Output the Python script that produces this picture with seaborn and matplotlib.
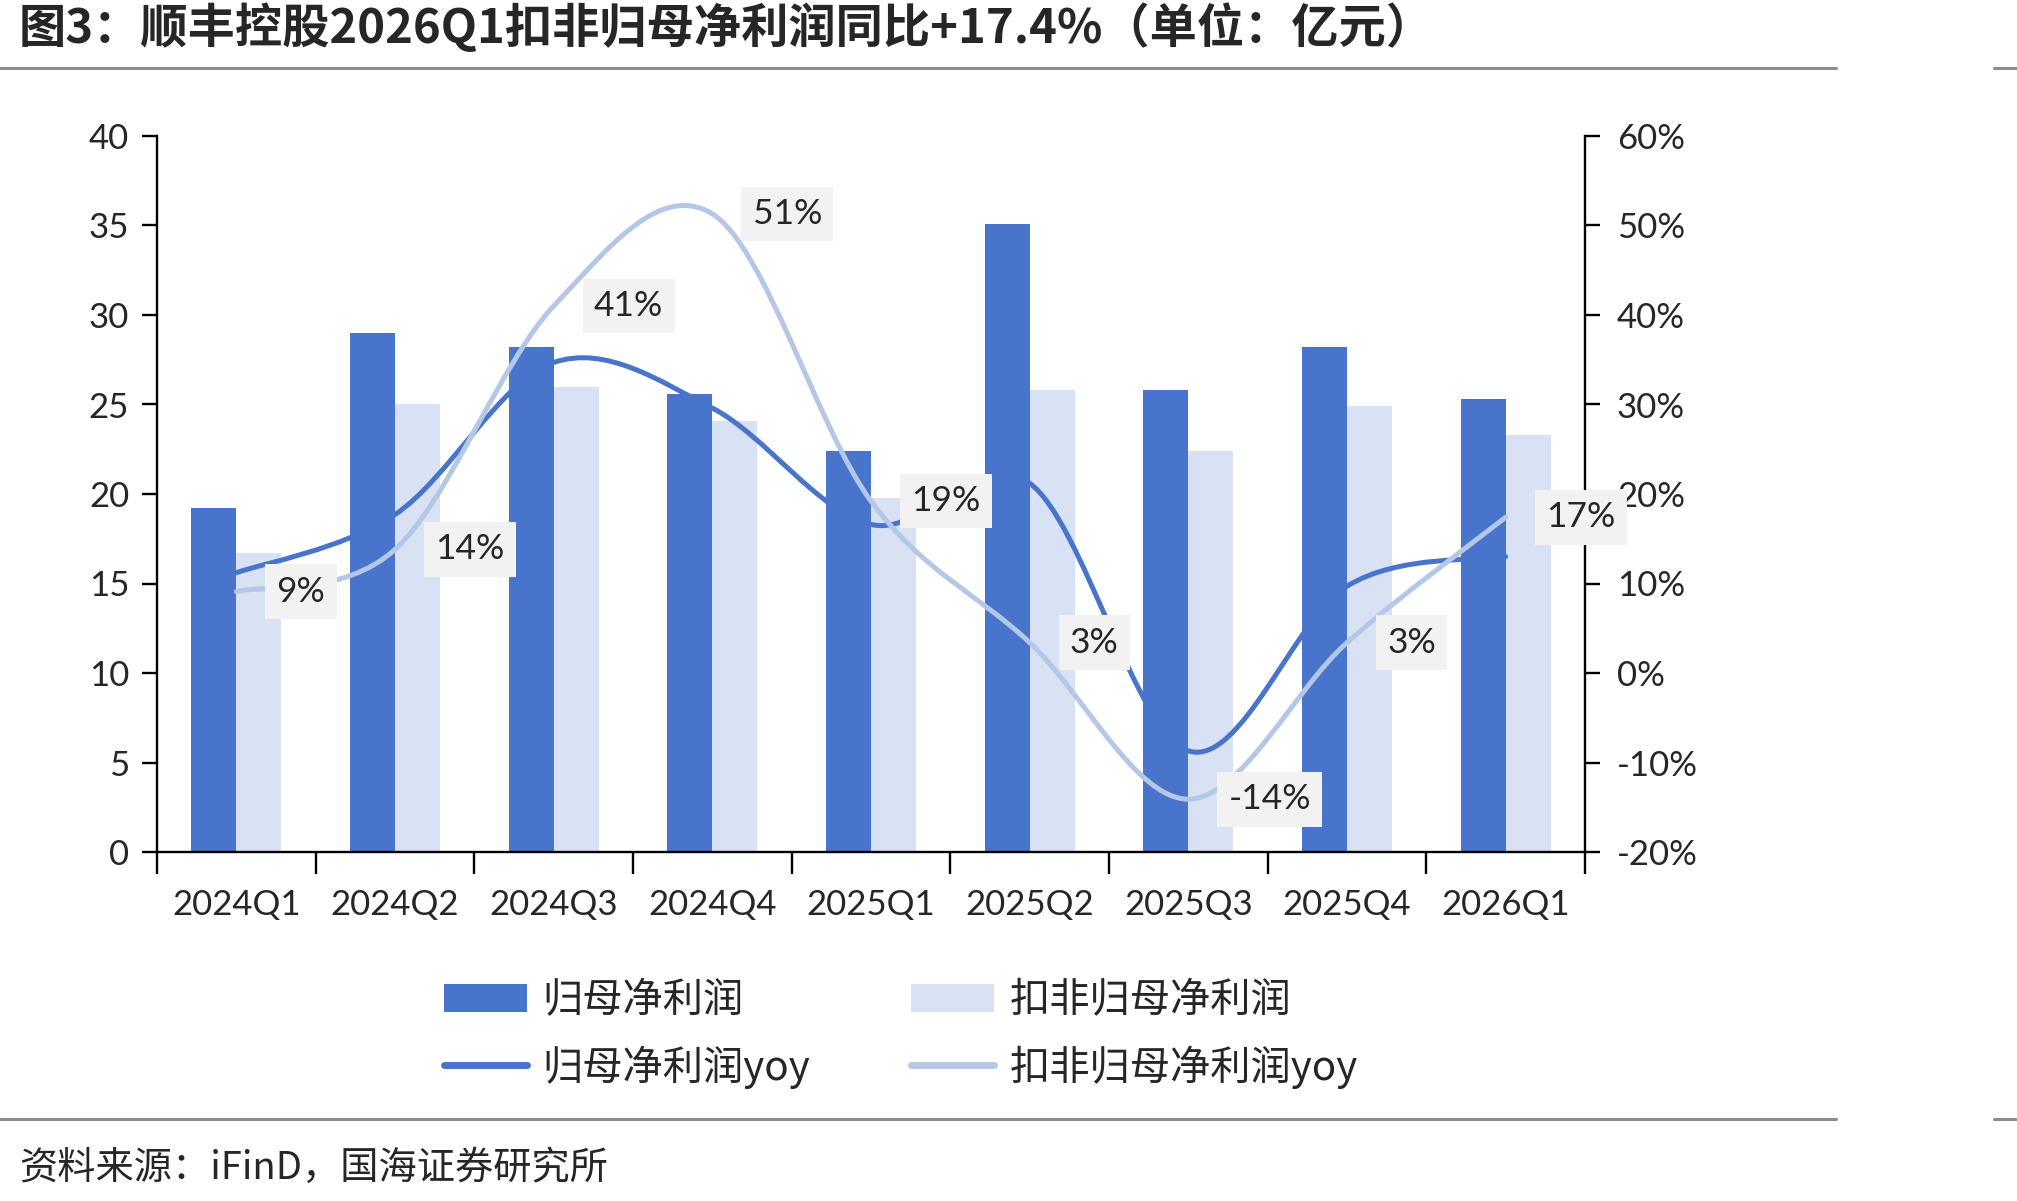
import numpy as np
import pandas as pd
import matplotlib
matplotlib.use("Agg")
import matplotlib.pyplot as plt
import seaborn as sns
from matplotlib.path import Path
from matplotlib.patches import PathPatch, Patch
from matplotlib.lines import Line2D

# data (亿元 / %)
quarters = ["2024Q1", "2024Q2", "2024Q3", "2024Q4", "2025Q1",
            "2025Q2", "2025Q3", "2025Q4", "2026Q1"]
net_profit = [19.2, 29.0, 28.2, 25.6, 22.4, 35.1, 25.8, 28.2, 25.3]
net_profit_ded = [16.7, 25.0, 26.0, 24.1, 19.8, 25.8, 22.4, 24.9, 23.3]
net_profit_yoy = [11.2, 17.7, 34.7, 29.6, 16.6, 21.2, -8.7, 9.7, 13.0]
ded_yoy = [9.1, 13.8, 41.0, 51.3, 19.2, 3.4, -14.1, 3.4, 17.4]
ded_yoy_labels = ["9%", "14%", "41%", "51%", "19%", "3%", "-14%", "3%", "17%"]

DARK = "#4874CB"
LIGHT = "#D9E1F4"
LINE_LIGHT = "#B4C7E7"
RULE = "#8C8C8C"

sns.set_style("white")
plt.rcParams["font.family"] = ["Noto Sans CJK SC", "DejaVu Sans"]
NUM_FONT = ["Lato", "Noto Sans CJK SC"]


def smooth_path(xs, ys):
    # excel-like smoothed line as bezier segments
    pts = np.column_stack([xs, ys]).astype(float)
    n = len(pts)
    verts = [pts[0]]
    codes = [Path.MOVETO]
    for i in range(n - 1):
        p0 = pts[max(i - 1, 0)]
        p1 = pts[i]
        p2 = pts[i + 1]
        p3 = pts[min(i + 2, n - 1)]
        verts += [p1 + (p2 - p0) / 6, p2 - (p3 - p1) / 6, p2]
        codes += [Path.CURVE4] * 3
    return Path(verts, codes)


fig = plt.figure(figsize=(20.17, 12.01), dpi=100)
ax = fig.add_axes([157 / 2017, 1 - 852 / 1201, 1428 / 2017, 716 / 1201])

df = pd.DataFrame({
    "quarter": quarters * 2,
    "value": net_profit + net_profit_ded,
    "series": ["归母净利润"] * len(quarters) + ["扣非归母净利润"] * len(quarters),
})
sns.barplot(data=df, x="quarter", y="value", hue="series",
            hue_order=["归母净利润", "扣非归母净利润"],
            palette=[DARK, LIGHT], saturation=1, width=0.567,
            errorbar=None, linewidth=0, legend=False, ax=ax)

ax.set_xlim(-0.5, len(quarters) - 0.5)
ax.set_ylim(0, 40)
ax.set_yticks(range(0, 41, 5))
ax.set_xlabel("")
ax.set_ylabel("")
ax.set_xticks(np.arange(-0.5, len(quarters), 1))
ax.set_xticklabels([])
ax.set_xticks(range(len(quarters)), minor=True)
ax.set_xticklabels(quarters, minor=True, fontsize=25, family=NUM_FONT)
for t in ax.get_yticklabels():
    t.set_fontfamily(NUM_FONT)
    t.set_fontsize(25)
ax.tick_params(axis="x", which="major", bottom=True, length=16, width=1.7, color="black")
ax.tick_params(axis="x", which="minor", bottom=True, length=0, pad=27)
ax.tick_params(axis="y", left=True, length=11, width=1.7, pad=9, color="black")
for s in ["top", "right"]:
    ax.spines[s].set_visible(False)
for s in ["left", "bottom"]:
    ax.spines[s].set_color("black")
    ax.spines[s].set_linewidth(1.7)

ax2 = ax.twinx()
ax2.set_ylim(-20, 60)
ax2.set_yticks(range(-20, 61, 10))
ax2.set_yticklabels([f"{v}%" for v in range(-20, 61, 10)], fontsize=25, family=NUM_FONT)
ax2.tick_params(axis="y", right=True, length=11, width=1.7, pad=12, color="black")
for s in ["top", "left", "bottom"]:
    ax2.spines[s].set_visible(False)
ax2.spines["right"].set_color("black")
ax2.spines["right"].set_linewidth(1.7)

xs = np.arange(len(quarters))
ax2.add_patch(PathPatch(smooth_path(xs, net_profit_yoy), fill=False, ec=DARK,
                        lw=3.6, capstyle="round", joinstyle="round"))
ax2.add_patch(PathPatch(smooth_path(xs, ded_yoy), fill=False, ec=LINE_LIGHT,
                        lw=3.6, capstyle="round", joinstyle="round"))

for x, v, lab in zip(xs, ded_yoy, ded_yoy_labels):
    ax2.annotate(lab, (x, v), xytext=(29, 0), textcoords="offset points",
                 ha="left", va="center", fontsize=25.5, family=NUM_FONT,
                 bbox=dict(boxstyle="square,pad=0.32", fc="#F2F2F2", ec="none"),
                 zorder=5)

handles = [
    Patch(color=DARK, lw=0),
    Line2D([], [], color=DARK, lw=5, solid_capstyle="round"),
    Patch(color=LIGHT, lw=0),
    Line2D([], [], color=LINE_LIGHT, lw=5, solid_capstyle="round"),
]
labels = ["归母净利润", "归母净利润yoy", "扣非归母净利润", "扣非归母净利润yoy"]
fig.legend(handles, labels, ncol=2, loc="upper left",
           bbox_to_anchor=(444 / 2017, 1 - 980 / 1201), frameon=False,
           fontsize=29, handlelength=2.05, handleheight=0.7, handletextpad=0.4,
           columnspacing=2.5, labelspacing=0.6, borderpad=0, borderaxespad=0)

fig.text(19 / 2017, 1 - 28 / 1201,
         "图3：顺丰控股2026Q1扣非归母净利润同比+17.4%（单位：亿元）",
         fontsize=34, fontweight="bold", va="center", ha="left")
fig.text(19 / 2017, 1 - 1168 / 1201, "资料来源：iFinD，国海证券研究所",
         fontsize=27.5, va="center", ha="left")

for yy in [68, 1119]:
    y = 1 - yy / 1201
    fig.add_artist(Line2D([0, 1836 / 2017], [y, y], color=RULE, lw=2.2,
                          transform=fig.transFigure))
    fig.add_artist(Line2D([1994 / 2017, 1], [y, y], color=RULE, lw=2.2,
                          transform=fig.transFigure))

fig.savefig("out.png", dpi=100)
